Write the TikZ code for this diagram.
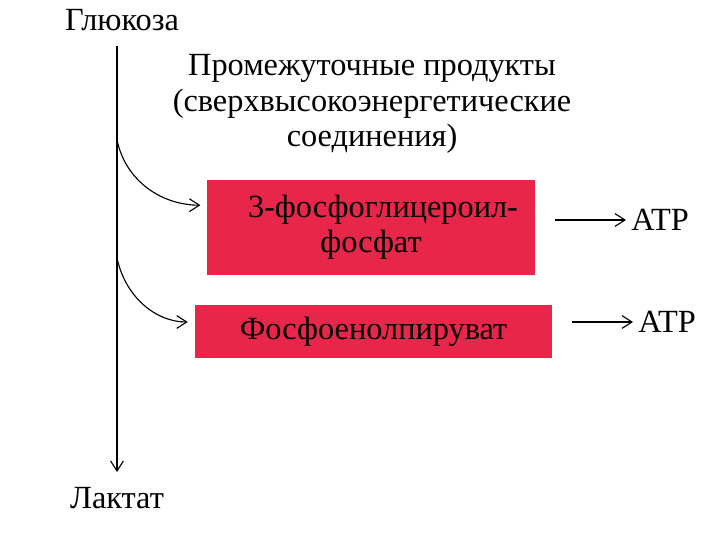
\documentclass[tikz,border=0pt]{standalone}
\usepackage{fontspec}
\setmainfont{Liberation Serif}
\usetikzlibrary{arrows.meta}
\begin{document}
\begin{tikzpicture}[
	>={Straight Barb[length=2.5mm,width=3.2mm]},
	every node/.style={font=\fontsize{23}{25}\selectfont},
	every path/.style={line width=0.8pt},
	product/.style={fill=boxred, inner sep=0pt, align=center}
	]
	
	% ---- Adjustable colors ----
	\definecolor{boxred}{RGB}{232,38,74}
	\useasboundingbox (0,0) rectangle (18,13.5);
	
	% ---- Start and end of the pathway ----
	\node (glucose) at (3.05,13.0) {Глюкоза};
	\node (lactate) at (2.925,1.05) {Лактат};
	\draw[->, shorten <=2.5mm, shorten >=2.5mm] (glucose.south -| lactate) -- (lactate);
	
	% ---- Heading of the intermediates ----
	\node[align=center] (inter) at (9.3,10.9)
		{Промежуточные продукты\\(сверхвысокоэнергетические\\соединения)};
	
	% ---- Intermediate products ----
	\node[product, minimum width=8.2cm, minimum height=2.375cm] (pA) at (9.275,7.81)
		{\hspace*{6mm}3-фосфоглицероил-\\фосфат};
	\node[product, minimum width=8.925cm, minimum height=1.325cm] (pB) at (9.34,5.21)
		{Фосфоенолпируват};
	
	% ---- Branches from the main line ----
	\coordinate (brA) at (2.925,10.0);
	\coordinate (brB) at (2.925,7.05);
	\draw[->, shorten >=1.5mm] (brA) to[out=-78,in=180] ([yshift=5.6mm]pA.west);
	\draw[->, shorten >=1.7mm] (brB) to[out=-78,in=180] ([yshift=2.4mm]pB.west);
	
	% ---- ATP ----
	\node (atpA) at (16.5,8.0) {ATP};
	\node (atpB) at (16.675,5.45) {ATP};
	\foreach \name in {A,B}
	\draw[->, shorten <=4.8mm] (p\name.east |- atp\name) -- (atp\name);
	
\end{tikzpicture}
\end{document}
